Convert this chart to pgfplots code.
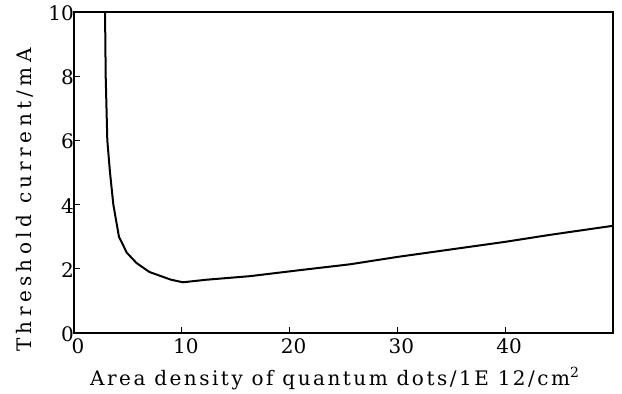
\documentclass[border=0pt]{standalone}
\usepackage{fontspec}
\setmainfont{DejaVu Serif}
\newfontfamily\xlabfont[LetterSpace=12.5]{DejaVu Serif}
\newfontfamily\ylabfont[LetterSpace=22]{DejaVu Serif}
\usepackage{pgfplots}
\pgfplotsset{compat=1.18}
\begin{document}
\begin{tikzpicture}
\useasboundingbox (-74pt,-61pt) rectangle (548pt,333pt);
\begin{axis}[
  scale only axis,
  width=539pt, height=321pt,
  xmin=0, xmax=50, ymin=0, ymax=10,
  xtick={0,10,20,30,40},
  ytick={0,2,4,6,8,10},
  tick align=inside,
  xtick pos=bottom, ytick pos=left,
  major tick length=6pt,
  axis line style={line width=2.6pt},
  every tick/.style={black, line width=1.2pt},
  /pgf/number format/assume math mode=true,
  ticklabel style={font=\fontsize{20}{22}\selectfont, inner sep=1pt},
  xticklabel style={anchor=north, yshift=-4pt, xshift=4pt},
  yticklabel style={xshift=1pt, yshift=-1pt},
  xlabel={\xlabfont\fontsize{20}{22}\selectfont Area density of quantum dots/1E 12/cm\textsuperscript{2}},
  ylabel={\ylabfont\fontsize{20}{22}\selectfont Threshold current/mA},
  xlabel style={at={(axis description cs:0.484,0)}, anchor=base, yshift=-52pt},
  ylabel style={at={(axis description cs:-0.0909,0.414)}, anchor=center},
]
\addplot[black, line width=2pt, line join=round] coordinates {
(2.88,10.0) (2.94,8.0) (3.09,6.0) (3.34,5.0) (3.65,4.0) (4.17,3.0)
(4.9,2.5) (5.8,2.18) (7.0,1.9) (8.0,1.78) (9.0,1.66) (10.1,1.58)
(12.3,1.66) (16.3,1.77) (21,1.96) (25.6,2.14) (30,2.37) (34.9,2.6)
(40,2.84) (44.2,3.06) (50,3.34)
};
\end{axis}
\end{tikzpicture}
\end{document}
